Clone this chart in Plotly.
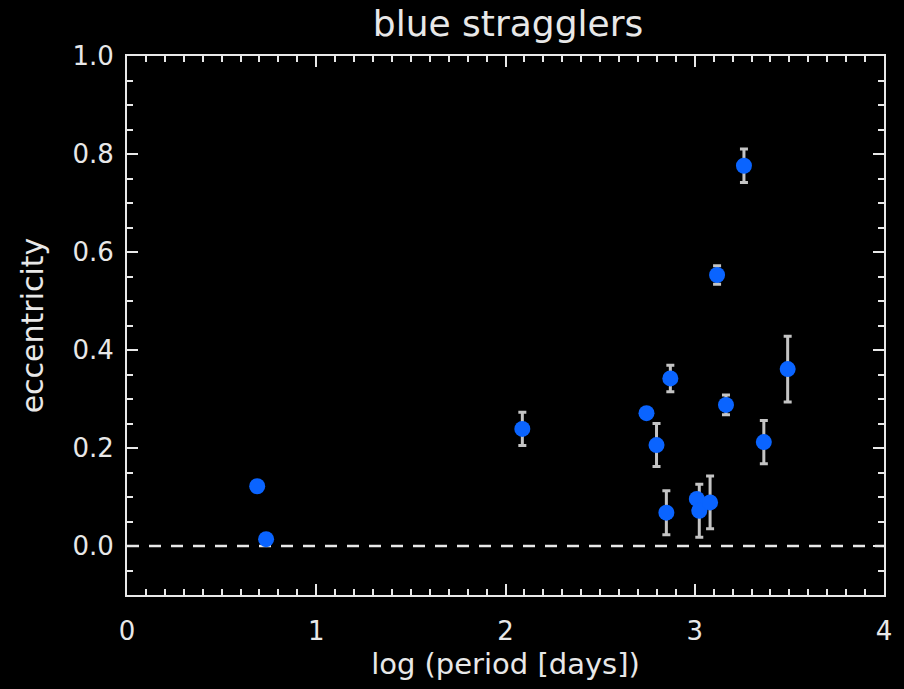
import plotly.graph_objects as go

# Blue straggler binaries: orbital period (log days) vs. eccentricity
log_period = [0.688, 0.735, 2.089, 2.745, 2.798, 2.871, 2.850, 3.011, 3.024,
              3.081, 3.165, 3.365, 3.491, 3.118, 3.260]
eccentricity = [0.122, 0.014, 0.239, 0.271, 0.206, 0.342, 0.068, 0.096, 0.072,
                0.089, 0.288, 0.212, 0.361, 0.553, 0.776]
ecc_error = [0.0, 0.0, 0.034, 0.0, 0.044, 0.027, 0.045, 0.0, 0.054,
             0.054, 0.020, 0.044, 0.067, 0.019, 0.034]

x_ticks = [0, 1, 2, 3, 4]
y_ticks = [0.0, 0.2, 0.4, 0.6, 0.8, 1.0]

FG = "#e8e8e8"
FONT = "DejaVu Sans, sans-serif"

fig = go.Figure()

fig.add_trace(go.Scatter(
    x=log_period,
    y=eccentricity,
    mode="markers",
    marker=dict(size=16, color="#0a64ff", line=dict(width=0)),
    error_y=dict(type="data", array=ecc_error, visible=True,
                 color="#c4c4c4", thickness=3, width=4),
    showlegend=False,
))

# circular-orbit reference line
fig.add_shape(type="line", xref="x", yref="y", x0=0, x1=4, y0=0, y1=0,
              line=dict(color=FG, width=2.5, dash="12px,10px"), layer="below")

axis_common = dict(
    showgrid=False, zeroline=False,
    showline=True, linecolor=FG, linewidth=2, mirror="ticks",
    ticks="inside", ticklen=11, tickwidth=2, tickcolor=FG,
    tickfont=dict(family=FONT, size=26, color=FG),
)

fig.update_xaxes(
    range=[0, 4], tickvals=x_ticks, ticktext=[str(v) for v in x_ticks],
    ticklabelstandoff=12,
    minor=dict(ticks="inside", dtick=0.1, tick0=0, ticklen=6, tickwidth=2,
               tickcolor=FG, showgrid=False),
    title=dict(text="log (period [days])", standoff=8,
               font=dict(family=FONT, size=29, color=FG)),
    **axis_common,
)
fig.update_yaxes(
    range=[-0.1, 1.0], tickvals=y_ticks, ticktext=[f"{v:.1f}" for v in y_ticks],
    ticklabelstandoff=6,
    minor=dict(ticks="inside", dtick=0.05, tick0=0, ticklen=6, tickwidth=2,
               tickcolor=FG, showgrid=False),
    title=dict(text="eccentricity", standoff=20,
               font=dict(family=FONT, size=30, color=FG)),
    **axis_common,
)

fig.update_layout(
    width=904, height=689,
    margin=dict(l=127, r=15, t=56, b=94),
    paper_bgcolor="black", plot_bgcolor="black",
    title=dict(text="blue stragglers", x=(127 + 889) / 2 / 904, xanchor="center",
               y=1 - 23 / 689, yanchor="middle",
               font=dict(family=FONT, size=36, color=FG)),
)

fig.write_html("out.html")
